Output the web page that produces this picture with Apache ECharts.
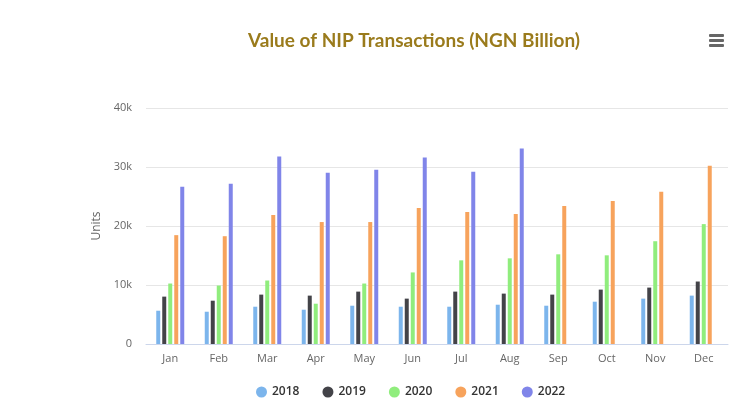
<!DOCTYPE html>
<html lang="en">
<head>
  <meta charset="UTF-8">
  <script src="https://cdn.jsdelivr.net/npm/echarts@6/dist/echarts.min.js"></script>
  <style>
    body { margin: 0; background: #fff; }
    #main { width: 753px; height: 409px; }
  </style>
  <title>Value of NIP Transactions</title>
</head>
<body>
  <div id="main"></div>
  <script>
    const months = ['Jan', 'Feb', 'Mar', 'Apr', 'May', 'Jun', 'Jul', 'Aug', 'Sep', 'Oct', 'Nov', 'Dec'];
    const years = ['2018', '2019', '2020', '2021', '2022'];
    const v2018 = [5640, 5470, 6320, 5810, 6490, 6320, 6320, 6660, 6490, 7170, 7690, 8200];
    const v2019 = [8030, 7340, 8370, 8200, 8880, 7690, 8880, 8540, 8370, 9220, 9560, 10590];
    const v2020 = [10250, 9910, 10760, 6830, 10250, 12130, 14180, 14520, 15200, 15030, 17420, 20320];
    const v2021 = [18450, 18270, 21860, 20670, 20670, 23060, 22370, 22030, 23400, 24250, 25790, 30230];
    const v2022 = [26640, 27160, 31770, 29030, 29550, 31600, 29210, 33130, null, null, null, null];
    const colors = ['#7cb5ec', '#434348', '#90ed7d', '#f7a35c', '#8085e9'];

    const values = [v2018, v2019, v2020, v2021, v2022];
    const font = '"Open Sans", "DejaVu Sans", sans-serif';

    const chart = echarts.init(document.getElementById('main'));
    chart.setOption({
      animation: false,
      color: colors,
      title: {
        text: 'Value of NIP Transactions (NGN Billion)',
        left: 409,
        top: 26,
        textAlign: 'center',
        textStyle: { color: '#9a7b1c', fontSize: 19, fontWeight: 'bold', fontFamily: 'Lato, ' + font }
      },
      legend: {
        left: 251,
        top: 381,
        icon: 'circle',
        itemWidth: 11,
        itemHeight: 11,
        itemGap: 23,
        textStyle: { color: '#333', fontSize: 12, fontWeight: 600, fontFamily: font }
      },
      grid: { left: 146, right: 25, top: 108, bottom: 65, containLabel: false },
      xAxis: {
        type: 'category',
        data: months,
        axisLine: { lineStyle: { color: '#ccd6eb' } },
        axisTick: { show: false },
        axisLabel: { color: '#666', fontSize: 11, margin: 9, fontFamily: font }
      },
      yAxis: {
        type: 'value',
        min: 0,
        max: 40000,
        interval: 10000,
        name: 'Units',
        nameLocation: 'middle',
        nameGap: 42,
        nameRotate: 90,
        nameTextStyle: { color: '#666', fontSize: 12, fontFamily: font },
        axisLine: { show: false },
        axisTick: { show: false },
        splitLine: { lineStyle: { color: '#e6e6e6' } },
        axisLabel: {
          color: '#666', fontSize: 11, margin: 14, fontFamily: font,
          formatter: v => v === 0 ? '0' : (v / 1000) + 'k'
        }
      },
      series: years.map((y, i) => ({
        name: y,
        type: 'bar',
        data: values[i],
        barWidth: 4,
        barGap: '50%'
      })),
      graphic: [0, 5, 10].map(dy => ({
        type: 'rect',
        shape: { x: 709, y: 34 + dy, width: 15, height: 3, r: 1 },
        style: { fill: '#666' }
      }))
    });
  </script>
</body>
</html>
